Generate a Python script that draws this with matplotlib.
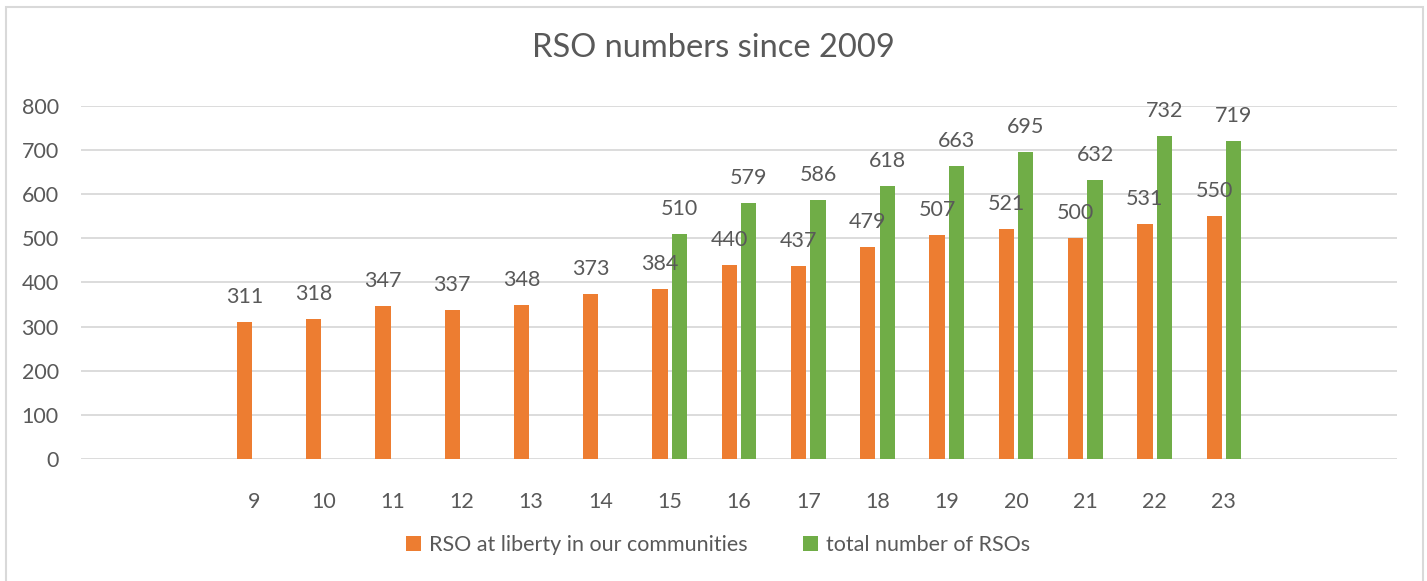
import matplotlib
matplotlib.use("Agg")
import matplotlib.pyplot as plt
from matplotlib.patches import Rectangle

plt.rcParams['font.family'] = ['Lato', 'DejaVu Sans']

# Data
categories = ["", "", "9", "10", "11", "12", "13", "14", "15", "16", "17",
              "18", "19", "20", "21", "22", "23", "", ""]
at_liberty = [None, None, 311, 318, 347, 337, 348, 373, 384, 440, 437,
              479, 507, 521, 500, 531, 550, None, None]
total = [None, None, None, None, None, None, None, None, 510, 579, 586,
         618, 663, 695, 632, 732, 719, None, None]
yticks = [0, 100, 200, 300, 400, 500, 600, 700, 800]
title = "RSO numbers since 2009"
series_names = ["RSO at liberty in our communities", "total number of RSOs"]

ORANGE = "#ED7D31"
GREEN = "#70AD47"
TXT = "#595959"
GRID = "#D9D9D9"
FS = 15.5

fig = plt.figure(figsize=(14.27, 5.81), dpi=100)
ax = fig.add_axes([81/1427, 1-459/581, (1397-81)/1427, (459-105.7)/581])

width = 0.22
off = 0.14
x = list(range(len(categories)))

def draw(vals, dx, color, label):
    xs = [i + dx for i, v in enumerate(vals) if v is not None]
    ys = [v for v in vals if v is not None]
    bars = ax.bar(xs, ys, width=width, color=color, label=label, zorder=3)
    for b, v in zip(bars, ys):
        ax.annotate(str(v), (b.get_x() + b.get_width()/2, v),
                    xytext=(0, 18), textcoords="offset points",
                    ha="center", va="center", fontsize=FS, color=TXT, zorder=4)
    return bars

draw(at_liberty, -off, ORANGE, series_names[0])
draw(total, off, GREEN, series_names[1])

ax.set_xlim(-0.5, len(categories) - 0.5)
ax.set_ylim(0, 800)
ax.set_yticks(yticks)
ax.set_yticklabels([str(t) for t in yticks])
ax.set_xticks(x)
ax.set_xticklabels(categories)
ax.tick_params(axis="both", length=0, labelsize=FS, labelcolor=TXT)
ax.tick_params(axis="x", pad=24)
ax.tick_params(axis="y", pad=16)
ax.yaxis.grid(True, color=GRID, linewidth=1.3, zorder=0)
ax.set_axisbelow(True)
for s in ax.spines.values():
    s.set_visible(False)

fig.text(713/1427, 1-48/581, title, ha="center", va="center",
         fontsize=23.5, color=TXT)

leg = fig.legend(loc="center", bbox_to_anchor=(718/1427, 1-545/581),
                 ncol=2, frameon=False, fontsize=FS, handlelength=0.7,
                 handleheight=0.7, handletextpad=0.35, columnspacing=2.6)
for t in leg.get_texts():
    t.set_color(TXT)

fig.patches.append(Rectangle((6/1427, -0.1), (1423-6)/1427, 1.1 - 7/581,
                             transform=fig.transFigure, fill=False,
                             edgecolor="#D9D9D9", linewidth=1.5))

fig.savefig("out.png", dpi=100)
